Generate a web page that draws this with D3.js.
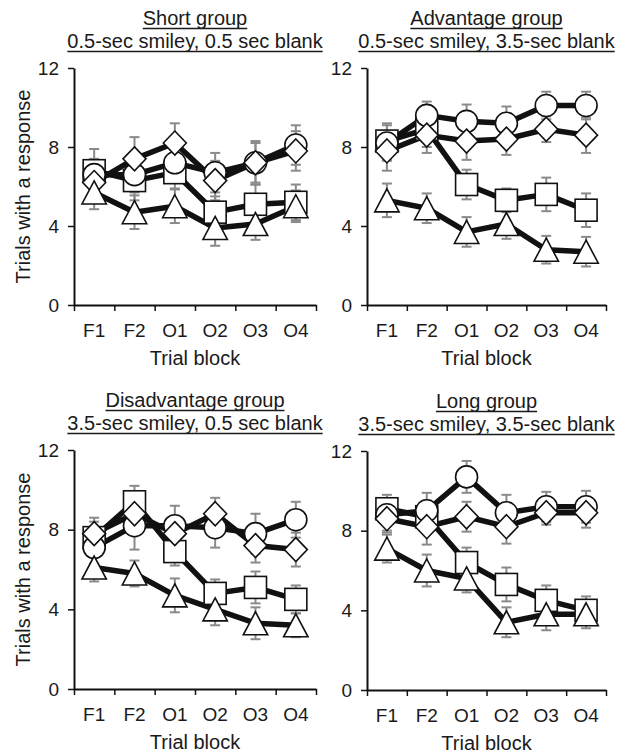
<!DOCTYPE html>
<html>
<head>
<meta charset="utf-8">
<script src="https://cdn.jsdelivr.net/npm/d3@7"></script>
<style>
  body { margin: 0; background: #fff; }
  svg text { font-family: "Liberation Sans", Arial, Helvetica, sans-serif; fill: #1a1a1a; }
</style>
</head>
<body>
<div id="chart"></div>
<script>
var svgWidth = 624;
var svgHeight = 754;

// trial blocks on the x axis
var blocks = ["F1", "F2", "O1", "O2", "O3", "O4"];
var yTicks = [0, 4, 8, 12];

// Short group
var shortCircle = [6.6, 6.6, 7.2, 6.7, 7.2, 8.1];
var shortSquare = [6.8, 6.3, 6.7, 4.7, 5.1, 5.2];
var shortDiamond = [6.2, 7.4, 8.2, 6.3, 7.2, 7.8];
var shortTriangle = [5.7, 4.7, 5.0, 3.9, 4.1, 5.0];
var shortCircleSE = [0.8, 0.9, 1.0, 1.0, 1.1, 1.0];
var shortSquareSE = [1.1, 1.0, 0.8, 0.8, 1.0, 0.9];
var shortDiamondSE = [0.9, 1.1, 1.0, 1.0, 1.0, 1.0];
var shortTriangleSE = [0.85, 0.85, 0.85, 0.9, 0.8, 0.8];

// Advantage group
var advCircle = [8.2, 9.6, 9.3, 9.2, 10.1, 10.1];
var advSquare = [8.3, 8.9, 6.1, 5.3, 5.6, 4.8];
var advDiamond = [7.8, 8.6, 8.3, 8.4, 8.9, 8.6];
var advTriangle = [5.3, 4.9, 3.7, 4.1, 2.8, 2.7];
var advCircleSE = [0.9, 0.7, 0.85, 0.85, 0.7, 0.7];
var advSquareSE = [0.9, 0.9, 0.75, 0.6, 0.85, 0.85];
var advDiamondSE = [1.0, 0.9, 0.95, 0.8, 0.65, 0.9];
var advTriangleSE = [0.85, 0.75, 0.75, 0.75, 0.7, 0.75];

// Disadvantage group
var disCircle = [7.1, 8.2, 8.2, 8.1, 7.8, 8.5];
var disSquare = [7.6, 9.4, 6.9, 4.8, 5.1, 4.5];
var disDiamond = [7.8, 8.8, 7.8, 8.8, 7.2, 7.0];
var disTriangle = [6.1, 5.8, 4.7, 4.0, 3.3, 3.2];
var disCircleSE = [0.8, 1.2, 1.0, 1.0, 1.0, 0.9];
var disSquareSE = [0.8, 0.8, 0.7, 0.7, 0.8, 0.7];
var disDiamondSE = [0.8, 0.8, 0.8, 0.8, 0.85, 0.85];
var disTriangleSE = [0.7, 0.65, 0.85, 0.8, 0.8, 0.6];

// Long group
var longCircle = [8.8, 9.0, 10.7, 8.9, 9.2, 9.2];
var longSquare = [9.1, 8.7, 6.4, 5.3, 4.5, 4.0];
var longDiamond = [8.6, 8.2, 8.7, 8.2, 8.9, 8.9];
var longTriangle = [7.1, 6.0, 5.6, 3.4, 3.8, 3.8];
var longCircleSE = [0.8, 0.9, 0.8, 0.9, 0.75, 0.8];
var longSquareSE = [0.7, 0.8, 0.75, 0.85, 0.75, 0.7];
var longDiamondSE = [0.7, 0.9, 0.75, 0.85, 0.6, 0.75];
var longTriangleSE = [0.7, 0.8, 0.7, 0.75, 0.8, 0.7];

var titles = ["Short group", "Advantage group", "Disadvantage group", "Long group"];
var subtitles = [
    "0.5-sec smiley, 0.5 sec blank",
    "0.5-sec smiley, 3.5-sec blank",
    "3.5-sec smiley, 0.5 sec blank",
    "3.5-sec smiley, 3.5-sec blank"
];

var panels = [
    { x0: 74, x1: 316, y0: 68, y1: 305, yLabel: true,
      series: [
        { shape: "square", v: shortSquare, se: shortSquareSE },
        { shape: "circle", v: shortCircle, se: shortCircleSE },
        { shape: "diamond", v: shortDiamond, se: shortDiamondSE },
        { shape: "triangle", v: shortTriangle, se: shortTriangleSE }
      ] },
    { x0: 367, x1: 606, y0: 68, y1: 305, yLabel: false,
      series: [
        { shape: "square", v: advSquare, se: advSquareSE },
        { shape: "circle", v: advCircle, se: advCircleSE },
        { shape: "diamond", v: advDiamond, se: advDiamondSE },
        { shape: "triangle", v: advTriangle, se: advTriangleSE }
      ] },
    { x0: 74, x1: 316, y0: 450, y1: 689, yLabel: true,
      series: [
        { shape: "square", v: disSquare, se: disSquareSE },
        { shape: "circle", v: disCircle, se: disCircleSE },
        { shape: "diamond", v: disDiamond, se: disDiamondSE },
        { shape: "triangle", v: disTriangle, se: disTriangleSE }
      ] },
    { x0: 367, x1: 606, y0: 451, y1: 690, yLabel: false,
      series: [
        { shape: "square", v: longSquare, se: longSquareSE },
        { shape: "circle", v: longCircle, se: longCircleSE },
        { shape: "diamond", v: longDiamond, se: longDiamondSE },
        { shape: "triangle", v: longTriangle, se: longTriangleSE }
      ] }
];

var svg = d3
.select("#chart")
.append("svg")
.attr("width", svgWidth)
.attr("height", svgHeight);

var shapePaths = {
    diamond: "M0,-12L11.5,0L0,12L-11.5,0Z",
    triangle: "M0,-11.5L12.2,11.5L-12.2,11.5Z"
};

function styleAxis(g) {
    g.select(".domain").attr("stroke", "#111").attr("stroke-width", 2);
    g.selectAll(".tick line").attr("stroke", "#111").attr("stroke-width", 1.5);
    g.selectAll("text")
    .attr("font-size", 19)
    .attr("font-family", "'Liberation Sans', Arial, sans-serif")
    .attr("fill", "#1a1a1a");
}

function underlinedText(g, txt, cx, baseline) {
    var t = g.append("text")
    .attr("x", cx)
    .attr("y", baseline)
    .attr("text-anchor", "middle")
    .attr("font-size", 20)
    .text(txt);
    var len = t.node().getComputedTextLength();
    g.append("line")
    .attr("x1", cx - len / 2)
    .attr("x2", cx + len / 2)
    .attr("y1", baseline + 3.5)
    .attr("y2", baseline + 3.5)
    .attr("stroke", "#1a1a1a")
    .attr("stroke-width", 1.4);
}

function drawPanel(p, idx) {
    var g = svg.append("g");

    var xScale = d3.scaleBand().domain(blocks).range([p.x0, p.x1]);
    var xEdge = d3.scaleLinear().domain([0, blocks.length]).range([p.x0, p.x1]);
    var yScale = d3.scaleLinear().domain([0, 12]).range([p.y1, p.y0]);
    var cx = function(i) { return xScale(blocks[i]) + xScale.bandwidth() / 2; };

    // titles
    var mid = (p.x0 + p.x1) / 2;
    underlinedText(g, titles[idx], mid, p.y0 - 43);
    underlinedText(g, subtitles[idx], mid, p.y0 - 20);

    // axes
    g.append("g")
    .attr("transform", "translate(" + p.x0 + ",0)")
    .call(d3.axisLeft(yScale).tickValues(yTicks).tickSize(6).tickSizeOuter(0).tickPadding(9))
    .call(styleAxis);

    g.append("g")
    .attr("transform", "translate(0," + p.y1 + ")")
    .call(d3.axisBottom(xEdge).tickValues(d3.range(blocks.length + 1)).tickSize(6).tickSizeOuter(0).tickFormat(""))
    .call(styleAxis);

    g.append("g")
    .attr("transform", "translate(0," + p.y1 + ")")
    .call(d3.axisBottom(xScale).tickSize(0).tickPadding(19))
    .call(styleAxis)
    .call(function(a) { a.select(".domain").remove(); });

    g.append("text")
    .attr("x", mid)
    .attr("y", p.y1 + 60)
    .attr("text-anchor", "middle")
    .attr("font-size", 20)
    .text("Trial block");

    if (p.yLabel) {
        g.append("text")
        .attr("transform", "translate(30," + ((p.y0 + p.y1) / 2) + ")rotate(-90)")
        .attr("text-anchor", "middle")
        .attr("font-size", 20)
        .text("Trials with a response");
    }

    // error bars
    p.series.forEach(function(s) {
        s.v.forEach(function(v, i) {
            var x = cx(i);
            var top = yScale(v + s.se[i]);
            var bot = yScale(v - s.se[i]);
            var eg = g.append("g").attr("stroke", "#8a8a8a").attr("stroke-width", 2);
            eg.append("line").attr("x1", x).attr("x2", x).attr("y1", top).attr("y2", bot);
            eg.append("line").attr("x1", x - 5).attr("x2", x + 5).attr("y1", top).attr("y2", top);
            eg.append("line").attr("x1", x - 5).attr("x2", x + 5).attr("y1", bot).attr("y2", bot);
        });
    });

    // lines
    var line = d3.line()
    .x(function(d, i) { return cx(i); })
    .y(function(d) { return yScale(d); });

    p.series.forEach(function(s) {
        g.append("path")
        .datum(s.v)
        .attr("d", line)
        .attr("fill", "none")
        .attr("stroke", "#111")
        .attr("stroke-width", 5.5)
        .attr("stroke-linejoin", "round");
    });

    // markers
    p.series.forEach(function(s) {
        var m = g.selectAll(null).data(s.v).enter();
        var mk;
        if (s.shape === "circle") {
            mk = m.append("circle")
            .attr("cx", function(d, i) { return cx(i); })
            .attr("cy", function(d) { return yScale(d); })
            .attr("r", 11);
        } else if (s.shape === "square") {
            mk = m.append("rect")
            .attr("x", function(d, i) { return cx(i) - 11; })
            .attr("y", function(d) { return yScale(d) - 11; })
            .attr("width", 22)
            .attr("height", 22);
        } else {
            mk = m.append("path")
            .attr("d", shapePaths[s.shape])
            .attr("transform", function(d, i) {
                return "translate(" + cx(i) + "," + yScale(d) + ")";
            });
        }
        mk.attr("fill", "#fff")
        .attr("stroke", "#111")
        .attr("stroke-width", 1.6);
    });
}

panels.forEach(drawPanel);
</script>
</body>
</html>
